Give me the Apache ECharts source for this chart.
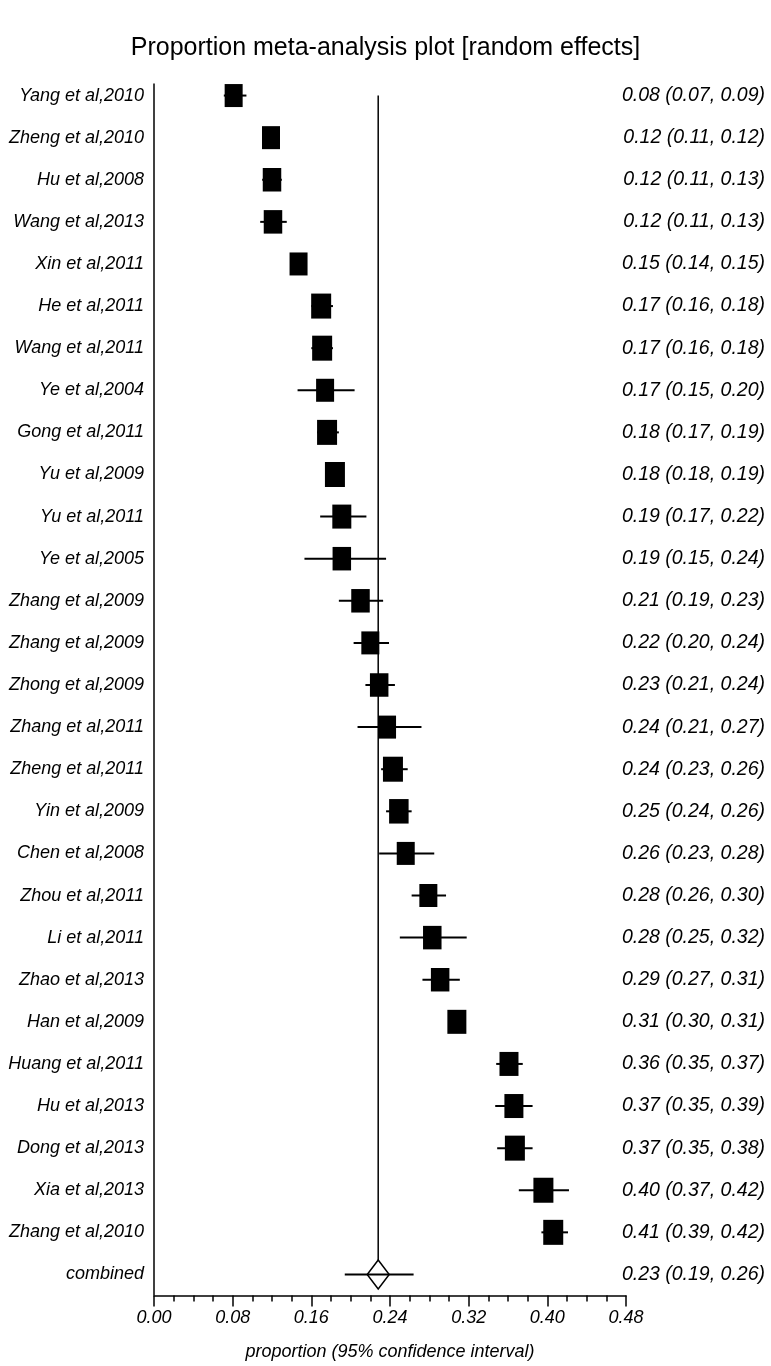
<!DOCTYPE html>
<html>
<head>
<meta charset="utf-8">
<script src="https://cdn.jsdelivr.net/npm/echarts@6/dist/echarts.min.js"></script>
<style>
html,body{margin:0;padding:0;background:#fff;}
#chart{width:771px;height:1366px;}
</style>
</head>
<body>
<div id="chart"></div>
<script>
// ---- data ----
var studies = ["Yang et al,2010","Zheng et al,2010","Hu et al,2008","Wang et al,2013","Xin et al,2011","He et al,2011","Wang et al,2011","Ye et al,2004","Gong et al,2011","Yu et al,2009","Yu et al,2011","Ye et al,2005","Zhang et al,2009","Zhang et al,2009","Zhong et al,2009","Zhang et al,2011","Zheng et al,2011","Yin et al,2009","Chen et al,2008","Zhou et al,2011","Li et al,2011","Zhao et al,2013","Han et al,2009","Huang et al,2011","Hu et al,2013","Dong et al,2013","Xia et al,2013","Zhang et al,2010"];
var estimate = [0.081,0.119,0.120,0.121,0.147,0.170,0.171,0.174,0.176,0.184,0.191,0.191,0.210,0.220,0.229,0.237,0.243,0.249,0.256,0.279,0.283,0.291,0.308,0.361,0.366,0.367,0.396,0.406];
var lower = [0.071,0.111,0.110,0.108,0.141,0.160,0.160,0.146,0.166,0.177,0.169,0.153,0.188,0.203,0.215,0.207,0.231,0.236,0.229,0.262,0.250,0.273,0.301,0.348,0.347,0.349,0.371,0.394];
var upper = [0.094,0.125,0.130,0.135,0.152,0.182,0.182,0.204,0.188,0.191,0.216,0.236,0.233,0.239,0.245,0.272,0.258,0.262,0.285,0.297,0.318,0.311,0.313,0.375,0.385,0.385,0.422,0.421];
var weight = [3.5,3.5,3.55,3.55,3.5,3.7,3.7,3.5,3.7,3.7,3.6,3.55,3.55,3.5,3.55,3.5,3.7,3.65,3.5,3.5,3.55,3.55,3.6,3.6,3.6,3.7,3.7,3.7];
var ciLabels = ["0.08 (0.07, 0.09)","0.12 (0.11, 0.12)","0.12 (0.11, 0.13)","0.12 (0.11, 0.13)","0.15 (0.14, 0.15)","0.17 (0.16, 0.18)","0.17 (0.16, 0.18)","0.17 (0.15, 0.20)","0.18 (0.17, 0.19)","0.18 (0.18, 0.19)","0.19 (0.17, 0.22)","0.19 (0.15, 0.24)","0.21 (0.19, 0.23)","0.22 (0.20, 0.24)","0.23 (0.21, 0.24)","0.24 (0.21, 0.27)","0.24 (0.23, 0.26)","0.25 (0.24, 0.26)","0.26 (0.23, 0.28)","0.28 (0.26, 0.30)","0.28 (0.25, 0.32)","0.29 (0.27, 0.31)","0.31 (0.30, 0.31)","0.36 (0.35, 0.37)","0.37 (0.35, 0.39)","0.37 (0.35, 0.38)","0.40 (0.37, 0.42)","0.41 (0.39, 0.42)"];
var combinedName = "combined";
var combined = {est: 0.228, lower: 0.194, upper: 0.264};
var combinedLabel = "0.23 (0.19, 0.26)";
var xTicks = {min: 0, max: 0.48, interval: 0.08};

// ---- build ----
var categories = studies.concat([combinedName]);
var rightLabels = ciLabels.concat([combinedLabel]);
var FONT = "'Liberation Sans', Arial, sans-serif";

var ciData = studies.map(function(s, i){ return [i, lower[i], upper[i]]; });
var pointData = studies.map(function(s, i){ return [estimate[i], i, weight[i]]; });
var lastIdx = categories.length - 1;

var chart = echarts.init(document.getElementById('chart'), null, {renderer: 'canvas'});
chart.setOption({
  backgroundColor: '#fff',
  animation: false,
  title: {
    text: 'Proportion meta-analysis plot [random effects]',
    left: 'center', top: 31,
    textStyle: {fontFamily: FONT, fontSize: 25, fontWeight: 'normal', color: '#000'}
  },
  grid: {left: 154, right: 145, top: 74.5, bottom: 70.5, containLabel: false},
  xAxis: {
    type: 'value', min: xTicks.min, max: xTicks.max, interval: xTicks.interval,
    name: 'proportion (95% confidence interval)', nameLocation: 'middle', nameGap: 47,
    nameTextStyle: {fontFamily: FONT, fontSize: 18, fontStyle: 'italic', color: '#000'},
    axisLine: {show: true, lineStyle: {color: '#000', width: 1.5}},
    axisTick: {show: true, length: 11, lineStyle: {color: '#000', width: 1.5}},
    minorTick: {show: true, splitNumber: 4, length: 6, lineStyle: {color: '#000', width: 1.5}},
    splitLine: {show: false},
    axisLabel: {margin: 13, fontFamily: FONT, fontSize: 18, fontStyle: 'italic', color: '#000',
      formatter: function(v){ return v.toFixed(2); }}
  },
  yAxis: [{
    type: 'category', data: categories, inverse: true,
    axisLine: {show: false}, axisTick: {show: false}, splitLine: {show: false},
    axisLabel: {margin: 10, fontFamily: FONT, fontSize: 18, fontStyle: 'italic', color: '#000', interval: 0}
  }, {
    type: 'category', data: rightLabels, inverse: true, position: 'right',
    axisLine: {show: false}, axisTick: {show: false}, splitLine: {show: false},
    axisLabel: {margin: 139, align: 'right', fontFamily: FONT, fontSize: 19.5, fontStyle: 'italic', color: '#000', interval: 0}
  }],
  series: [
    {
      type: 'custom', name: 'frame', data: [[0]], silent: true, z: 1,
      renderItem: function(params, api){
        var band = api.size([0, 1])[1];
        var top = api.coord([xTicks.min, 0]);
        var bot = api.coord([xTicks.min, lastIdx]);
        var pTop = api.coord([combined.est, 0]);
        var pBot = api.coord([combined.est, lastIdx]);
        return {type: 'group', children: [
          {type: 'line', shape: {x1: top[0], y1: top[1] - 12, x2: bot[0], y2: bot[1] + band / 2},
           style: {stroke: '#000', lineWidth: 1.5}},
          {type: 'line', shape: {x1: pTop[0], y1: pTop[1], x2: pBot[0], y2: pBot[1] - 14.5},
           style: {stroke: '#000', lineWidth: 1.5}}
        ]};
      }
    },
    {
      type: 'custom', name: 'ci', data: ciData, silent: true, z: 2,
      encode: {x: [1, 2], y: 0},
      renderItem: function(params, api){
        var a = api.coord([api.value(1), api.value(0)]);
        var b = api.coord([api.value(2), api.value(0)]);
        return {type: 'line', shape: {x1: a[0], y1: a[1], x2: b[0], y2: b[1]},
          style: {stroke: '#000', lineWidth: 2}};
      }
    },
    {
      type: 'scatter', name: 'estimate', data: pointData, z: 3,
      symbol: 'rect',
      symbolSize: function(v){ var w = 18 + (v[2] - 3.5) * 10; return [w, w + 5]; },
      itemStyle: {color: '#000', opacity: 1}
    },
    {
      type: 'custom', name: 'combined', data: [[lastIdx, combined.est, combined.lower, combined.upper]],
      silent: true, z: 4, encode: {x: [1, 2, 3], y: 0},
      renderItem: function(params, api){
        var c = api.coord([api.value(1), api.value(0)]);
        var l = api.coord([api.value(2), api.value(0)]);
        var u = api.coord([api.value(3), api.value(0)]);
        var hw = 11, hh = 14.5;
        return {type: 'group', children: [
          {type: 'polygon', shape: {points: [[c[0], c[1] - hh], [c[0] + hw, c[1]], [c[0], c[1] + hh], [c[0] - hw, c[1]]]},
           style: {fill: '#fff', stroke: '#000', lineWidth: 1.5}},
          {type: 'line', shape: {x1: l[0], y1: l[1], x2: u[0], y2: u[1]},
           style: {stroke: '#000', lineWidth: 2}}
        ]};
      }
    }
  ]
});
</script>
</body>
</html>
